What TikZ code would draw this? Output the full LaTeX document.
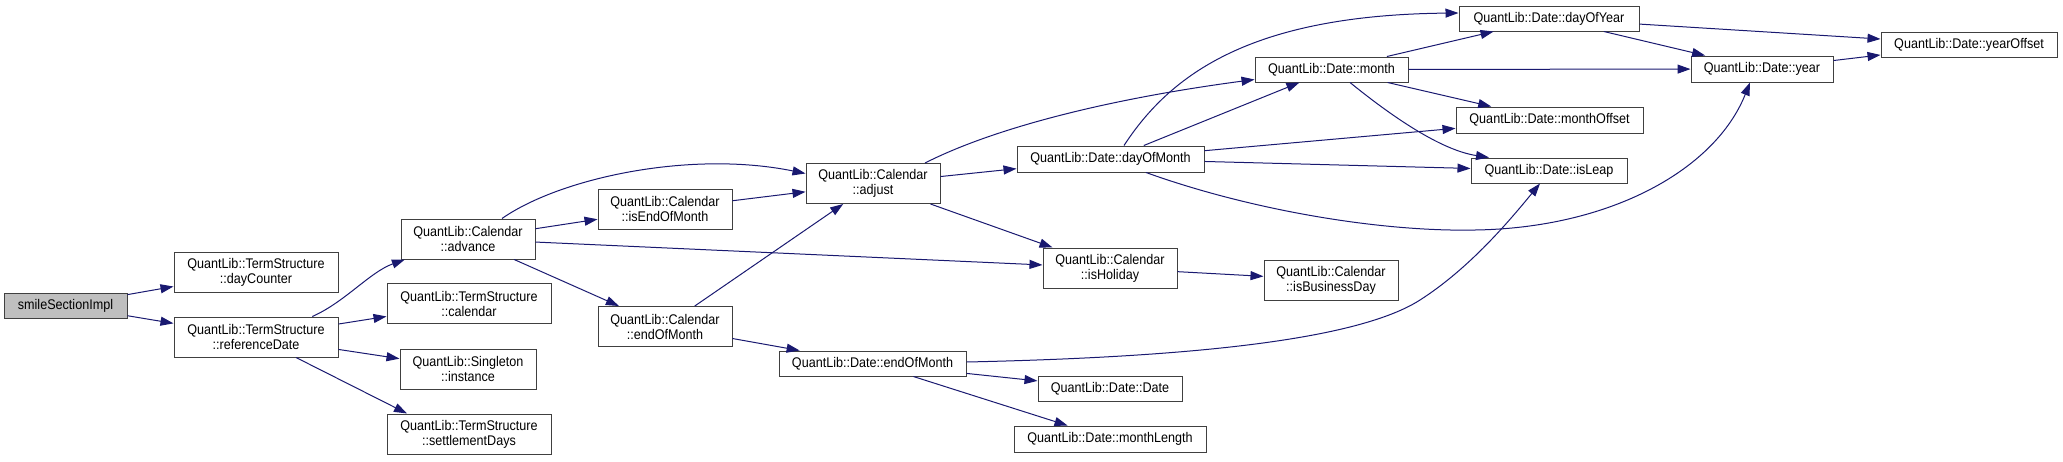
\documentclass[tikz,border=0pt]{standalone}
\usepackage{fontspec}
\setmainfont{Liberation Sans}[FakeStretch=0.9]
\usetikzlibrary{arrows.meta}
\definecolor{edgeblue}{RGB}{25,25,112}
\tikzset{
  fnbox/.style={draw=black!75, line width=1pt, fill=white, inner sep=0pt,
    align=center, font=\fontsize{14}{15}\selectfont},
  boxsize/.style 2 args={minimum width=#1pt, minimum height=#2pt}
}
\tikzset{
  call/.style={draw=edgeblue, line width=1pt, -{Triangle[length=13pt,width=9pt]}}
}

\begin{document}
\begin{tikzpicture}[x=1pt, y=-1pt]
      \useasboundingbox (0,0) rectangle (2063,461);
      % first column
      \node[fnbox, boxsize={123}{25}, fill=black!25] (smile) at (65.5,305.5) {smileSectionImpl};
      \node[fnbox, boxsize={164}{40}] (dayc) at (256,272) {QuantLib::TermStructure\\::dayCounter};
      \node[fnbox, boxsize={164}{40}] (refd) at (256,337) {QuantLib::TermStructure\\::referenceDate};
      % second column
      \node[fnbox, boxsize={134}{40}] (adv) at (468,239) {QuantLib::Calendar\\::advance};
      \node[fnbox, boxsize={164}{40}] (cal) at (469,303.5) {QuantLib::TermStructure\\::calendar};
      \node[fnbox, boxsize={136}{40}] (inst) at (468,369) {QuantLib::Singleton\\::instance};
      \node[fnbox, boxsize={164}{40}] (settl) at (469,434) {QuantLib::TermStructure\\::settlementDays};
      \node[fnbox, boxsize={134}{40}] (ieom) at (665,209) {QuantLib::Calendar\\::isEndOfMonth};
      \node[fnbox, boxsize={134}{40}] (ceom) at (665,326.5) {QuantLib::Calendar\\::endOfMonth};
      \node[fnbox, boxsize={134}{40}] (adj) at (873,183.5) {QuantLib::Calendar\\::adjust};
      \node[fnbox, boxsize={187}{25}] (deom) at (872.5,363.5) {QuantLib::Date::endOfMonth};
      % middle
      \node[fnbox, boxsize={187}{26}] (dom) at (1110.5,159) {QuantLib::Date::dayOfMonth};
      \node[fnbox, boxsize={134}{40}] (hol) at (1110,268) {QuantLib::Calendar\\::isHoliday};
      \node[fnbox, boxsize={144}{25}] (ddate) at (1110,388.5) {QuantLib::Date::Date};
      \node[fnbox, boxsize={192}{26}] (mlen) at (1110,439) {QuantLib::Date::monthLength};
      \node[fnbox, boxsize={153}{25}] (mon) at (1331.5,69.5) {QuantLib::Date::month};
      \node[fnbox, boxsize={134}{40}] (bday) at (1331,280) {QuantLib::Calendar\\::isBusinessDay};
      % right side
      \node[fnbox, boxsize={180}{25}] (doy) at (1549,18.5) {QuantLib::Date::dayOfYear};
      \node[fnbox, boxsize={187}{26}] (moff) at (1549.5,120) {QuantLib::Date::monthOffset};
      \node[fnbox, boxsize={156}{25}] (leap) at (1549,170.5) {QuantLib::Date::isLeap};
      \node[fnbox, boxsize={142}{26}] (year) at (1762,69) {QuantLib::Date::year};
      \node[fnbox, boxsize={176}{25}] (yoff) at (1969,44.5) {QuantLib::Date::yearOffset};
      % calls from the left part
      \draw[call] (smile) -- (dayc);
      \draw[call] (smile) -- (refd);
      \draw[call] (refd.20) .. controls (345,302) and (370,272) .. (adv.198);
      \draw[call] (refd) -- (cal);
      \draw[call] (refd) -- (inst);
      \draw[call] ([xshift=40pt]refd.south) -- ([xshift=-62pt]settl.north);
      \draw[call] ([xshift=34pt]adv.north) .. controls (560,178) and (690,150) .. ([yshift=10pt]adj.west);
      \draw[call] (adv) -- (ieom);
      \draw[call] (adv) -- (hol);
      \draw[call] (adv) -- (ceom);
      \draw[call] (ieom) -- (adj);
      \draw[call] (ceom) -- (adj);
      \draw[call] (ceom) -- (deom);
      % adjust and dayOfMonth
      \draw[call] ([xshift=52pt]adj.north) .. controls (990,130) and (1100,100) .. ([yshift=-10pt]mon.west);
      \draw[call] (adj) -- (dom);
      \draw[call] (adj) -- (hol);
      \draw[call] ([xshift=13.5pt]dom.north) .. controls (1170,75) and (1250,15) .. ([yshift=5.5pt]doy.west);
      \draw[call] (dom) -- (mon);
      \draw[call] (dom) -- (moff);
      \draw[call] (dom) -- (leap);
      \draw[call] ([xshift=35.5pt]dom.south) .. controls (1250,210) and (1380,232) .. (1475,230)
        .. controls (1610,228) and (1715,170) .. ([xshift=-12pt]year.south);
      % month and the rest
      \draw[call] (mon) -- (doy);
      \draw[call] (mon) -- (year);
      \draw[call] (mon) -- (moff);
      \draw[call] ([xshift=18.5pt]mon.south) .. controls (1390,115) and (1440,150) .. ([xshift=-60pt]leap.north);
      \draw[call] (doy) -- (year);
      \draw[call] (doy) -- (yoff);
      \draw[call] (year) -- (yoff);
      \draw[call] (hol) -- (bday);
      \draw[call] ([yshift=1.5pt]deom.east) .. controls (1150,358) and (1350,345) .. (1420,300)
        .. controls (1470,268) and (1510,220) .. ([xshift=-9pt]leap.south);
      \draw[call] (deom) -- (ddate);
      \draw[call] (deom) -- (mlen);
    \end{tikzpicture}
\end{document}
